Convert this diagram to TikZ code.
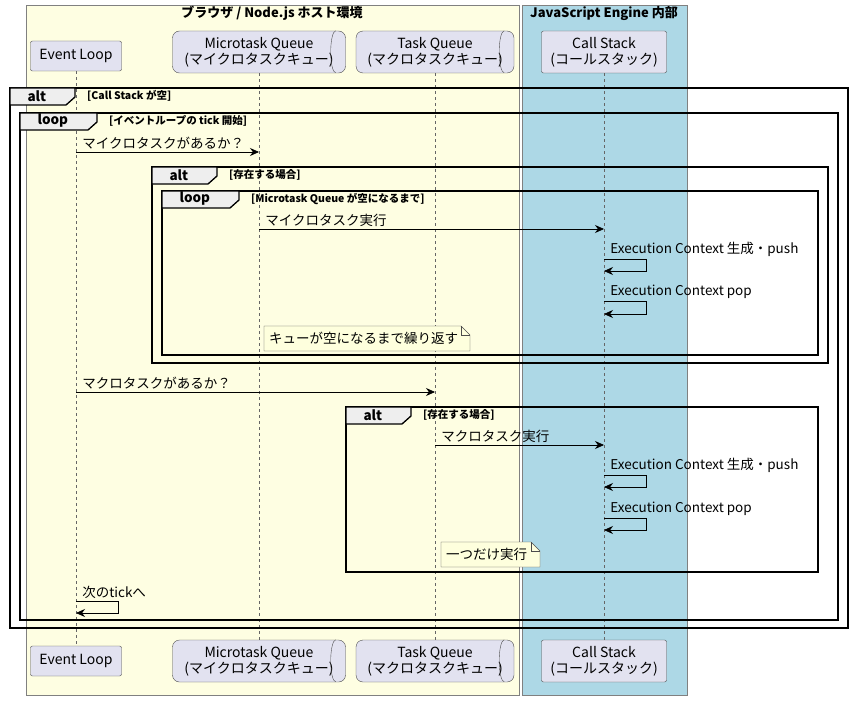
\documentclass[tikz,border=0pt]{standalone}
\usepackage{fontspec}
\setmainfont{Noto Sans CJK JP}
\usetikzlibrary{arrows.meta}
\definecolor{boxyel}{HTML}{FEFEE2}
\definecolor{boxblue}{HTML}{ADD8E6}
\definecolor{partfill}{HTML}{E2E2F0}
\definecolor{tabfill}{HTML}{EEEEEE}
\definecolor{notefill}{HTML}{FEFFDD}
\tikzset{
  part/.style={draw=black!70,fill=partfill,rounded corners=2pt,align=center,font=\fontsize{14}{16}\selectfont,inner sep=4pt},
  msg/.style={-{Stealth[length=9pt,width=8pt]},line width=0.7pt},
  life/.style={dashed,draw=black!60,line width=0.5pt},
  lbl/.style={font=\fontsize{13.5}{15}\selectfont,anchor=south west,inner sep=2pt,xshift=4pt},
  frm/.style={line width=1.3pt},
  cond/.style={font=\bfseries\fontsize{10.5}{12}\selectfont,anchor=west,inner sep=0pt},
  note/.style={draw=black!70,fill=notefill,font=\fontsize{13.5}{15}\selectfont,inner sep=3pt,minimum height=24pt},
}
% frame: x1, y1, x2, y2, kind, tab width, condition
\newcommand\umlframe[7]{
  \draw[frm] (#1,#2) rectangle (#3,#4);
  \draw[frm,fill=tabfill] (#1,#2) -- ({#1+#6},#2) -- ({#1+#6},{#2+9}) -- ({#1+#6-9},{#2+17}) -- (#1,{#2+17}) -- cycle;
  \node[font=\bfseries\fontsize{13.5}{15}\selectfont,anchor=west] at ({#1+14},{#2+8}) {#5};
  \node[cond] at ({#1+#6+12},{#2+8}) {#7};
}
% queue participant
\newcommand\queuepart[5]{
  \node[part,rounded corners=7pt,minimum height=42pt,minimum width=#4] (#1) at (#2,#3) {#5};
  \draw[black!70] ([xshift=-10pt]#1.north east) arc[start angle=90,end angle=270,x radius=5pt,y radius=21pt];
}
% note with folded corner: name, x1, y1, x2, y2, text
\newcommand\umlnote[6]{
  \path[draw=black!70,fill=notefill] (#2,#3) -- ({#4-9},#3) -- (#4,{#3+9}) -- (#4,#5) -- (#2,#5) -- cycle;
  \draw[black!70] ({#4-9},#3) -- ({#4-9},{#3+9}) -- (#4,{#3+9});
  \node[font=\fontsize{13.5}{15}\selectfont,anchor=west,inner sep=0pt] (#1) at ({#2+5},{(#3+#5)/2}) {#6};
}
\begin{document}
\begin{tikzpicture}[x=1pt,y=-1pt]
\useasboundingbox (0,0) rectangle (852,701);
% boxes
\draw[black!50,fill=boxyel] (26,5) rectangle (519,695);
\draw[black!50,fill=boxblue] (522,5) rectangle (687,695);
\node[font=\bfseries\fontsize{13}{15}\selectfont] (hostttl) at (272,13) {ブラウザ / Node.js ホスト環境};
\node[font=\bfseries\fontsize{13}{15}\selectfont] (engttl) at (604,13) {JavaScript Engine 内部};
% participants
\node[part,minimum height=30pt,minimum width=91pt] (el) at (76,56) {Event Loop};
\queuepart{mq}{259}{52}{173pt}{Microtask Queue\\(マイクロタスクキュー)}
\queuepart{tq}{435}{52}{158pt}{Task Queue\\(マクロタスクキュー)}
\node[part,minimum height=42pt,minimum width=125pt] (cs) at (604,52) {Call Stack\\(コールスタック)};
\node[part,minimum height=30pt,minimum width=91pt] (elb) at (76,661) {Event Loop};
\queuepart{mqb}{259}{661}{173pt}{Microtask Queue\\(マイクロタスクキュー)}
\queuepart{tqb}{435}{661}{158pt}{Task Queue\\(マクロタスクキュー)}
\node[part,minimum height=42pt,minimum width=125pt] (csb) at (604,661) {Call Stack\\(コールスタック)};
% lifelines
\foreach \p in {el,mq,tq,cs} {
  \draw[life] (\p.south) -- (\p b.north);
}
% frames
\umlframe{10}{88}{848}{628}{alt}{65}{[Call Stack が空]}
\umlframe{20}{113}{838}{620}{loop}{77}{[イベントループの tick 開始]}
\umlframe{152}{167}{828}{363}{alt}{65}{[存在する場合]}
\umlframe{162}{191}{818}{355}{loop}{77}{[Microtask Queue が空になるまで]}
\umlframe{346}{407}{818}{572}{alt}{65}{[存在する場合]}
% messages
\draw[msg] (el |- 0,152) node[lbl] {マイクロタスクがあるか？} -- (mq |- 0,152);
\draw[msg] (mq |- 0,229) node[lbl] {マイクロタスク実行} -- (cs |- 0,229);
\draw[msg] (cs |- 0,259) node[lbl] {Execution Context 生成・push} -- ++(42,0) |- (cs |- 0,271);
\draw[msg] (cs |- 0,301) node[lbl] {Execution Context pop} -- ++(42,0) |- (cs |- 0,314);
\umlnote{n1}{264}{326}{470}{351}{キューが空になるまで繰り返す}
\draw[msg] (el |- 0,392) node[lbl] {マクロタスクがあるか？} -- (tq |- 0,392);
\draw[msg] (tq |- 0,445) node[lbl] {マクロタスク実行} -- (cs |- 0,445);
\draw[msg] (cs |- 0,475) node[lbl] {Execution Context 生成・push} -- ++(42,0) |- (cs |- 0,487);
\draw[msg] (cs |- 0,518) node[lbl] {Execution Context pop} -- ++(42,0) |- (cs |- 0,530);
\umlnote{n2}{441}{542}{540}{567}{一つだけ実行}
\draw[msg] (el |- 0,601) node[lbl] {次のtickへ} -- ++(42,0) |- (el |- 0,613);
\end{tikzpicture}
\end{document}
